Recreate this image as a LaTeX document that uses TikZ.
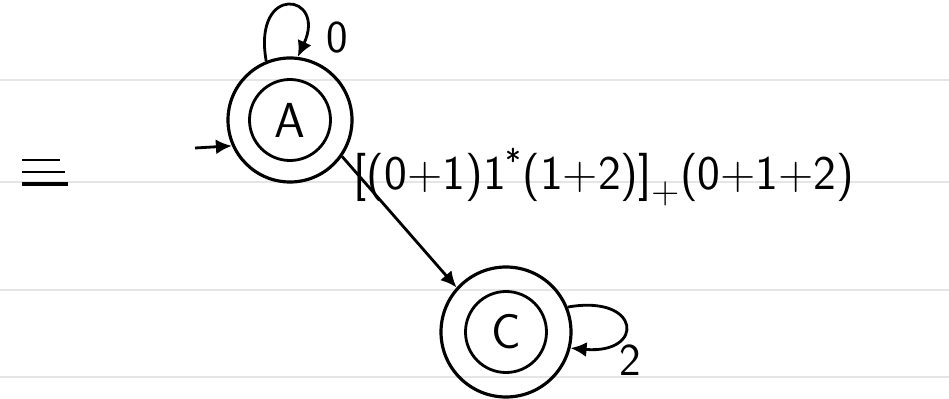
\documentclass[tikz,border=0pt]{standalone}
\usetikzlibrary{arrows.meta,calc}

\begin{document}
\begin{tikzpicture}[
    font=\sffamily,
    >=Latex,
    outer/.style={
        draw=black,
        circle,
        line width=1.8pt,
        inner sep=0pt
    },
    inner/.style={
        draw=black,
        circle,
        line width=1.6pt,
        inner sep=0pt,
        minimum size=1.62cm,
        font=\sffamily\fontsize{28}{30}\selectfont
    },
    flow/.style={-{Latex[length=3.2mm,width=3mm]},line width=1.6pt},
    sym/.style={font=\sffamily\fontsize{26}{30}\selectfont}
]

% Paper frame and ruled lines
\useasboundingbox (0,0) rectangle (18.98,7.96);
\foreach \y in {6.36,4.32,2.16,0.42}
    \draw[black!10,line width=0.6pt] (0,\y) -- (18.98,\y);

% Equivalence sign
\draw[line width=1.6pt] (0.45,4.76) -- (1.2,4.76);
\draw[line width=1.6pt] (0.45,4.52) -- (1.3,4.52);
\draw[line width=2.4pt] (0.45,4.28) -- (1.35,4.28);

% States
\node[outer,minimum size=2.48cm] (A) at (5.8,5.56) {};
\node[inner] (Ain) at (A) {A};
\node[outer,minimum size=2.6cm] (C) at (10.12,1.32) {};
\node[inner] (Cin) at (C) {C};

% Start arrow
\coordinate (start) at (3.9,5.0);
\draw[flow] (start) -- (A.204);

% Self loops
\draw[flow] (A.112) .. controls +(100:1.6) and +(65:1.4) .. (A.83);
\node[sym] (zero) at (6.75,7.2) {0};
\draw[flow] (C.22) .. controls +(10:1.5) and +(-5:1.5) .. (C.-14);
\node[sym] (two) at (12.6,0.75) {2};

% Transition A to C
\draw[flow] (A.-35) -- (C.138);
\node[sym,anchor=west,font=\sffamily\fontsize{27.5}{32}\selectfont] (expr) at (6.95,4.42)
    {[(0+1)1\textsuperscript{*}(1+2)]\raisebox{-0.3em}{\fontsize{22}{26}\selectfont+}(0+1+2)};

\end{tikzpicture}
\end{document}
